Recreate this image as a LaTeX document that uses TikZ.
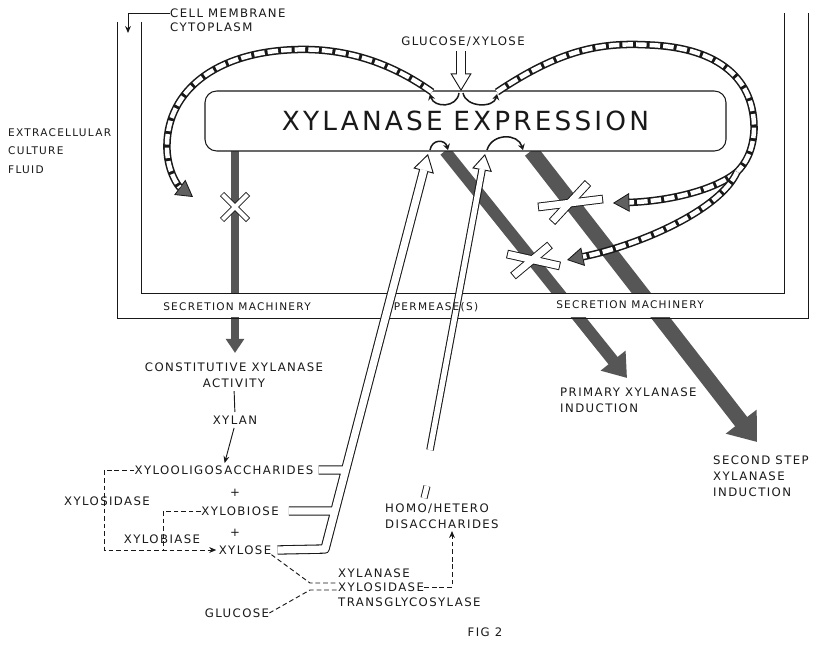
\documentclass[tikz,border=0pt]{standalone}
\usepackage{fontspec}
\setmainfont{DejaVu Sans}[LetterSpace=12]
\usepackage{tikz}
\usetikzlibrary{
  arrows.meta,
  calc
}
\definecolor{secgray}{RGB}{86,86,86}
\definecolor{tipgray}{RGB}{96,96,96}
\definecolor{inkblack}{RGB}{25,25,25}
\tikzset{
  lbl/.style={inner sep=0pt,align=center,text=inkblack,
    font=\fontsize{10}{13.6}\selectfont},
  lblw/.style={lbl,align=left,anchor=west},
  bandlbl/.style={lbl,font=\fontsize{9}{11}\selectfont},
  exprbox/.style={draw=inkblack,line width=0.9pt,fill=white,rounded corners=10pt,
    minimum width=15.63cm,minimum height=1.8cm,inner sep=0pt,text=inkblack,
    font=\fontsize{22.5}{26}\selectfont},
  membrane/.style={draw=inkblack,line width=0.8pt},
  secflow/.style={draw=secgray,fill=secgray},
  chainband/.style={draw=inkblack,line width=6.4pt,
    postaction={draw=white,line width=3.8pt,dash pattern=on 9pt off 2.6pt}},
  chain/.style={draw=inkblack,line width=6.4pt,
    -{Triangle[length=14pt,width=16pt,fill=tipgray,line width=0.7pt]},
    postaction={draw=white,line width=3.8pt,dash pattern=on 9pt off 2.6pt,
      arrows=-,shorten >=14pt}},
  pipe/.style={draw=inkblack,line width=8pt,line join=round,
    -{Triangle[length=15pt,width=18pt,fill=white,line width=0.8pt]},
    postaction={draw=white,line width=6.2pt,arrows=-,shorten >=14pt}},
  pipethin/.style={draw=inkblack,line width=6.4pt,line join=round,
    -{Triangle[length=14pt,width=17pt,fill=white,line width=0.8pt]},
    postaction={draw=white,line width=4.6pt,arrows=-,shorten >=13pt}},
  pipebreak/.style={draw=inkblack,line width=6pt,
    postaction={draw=white,line width=4.4pt}},
  barout/.style={draw=inkblack,line width=7.4pt},
  barin/.style={draw=white,line width=5.8pt,shorten <=0.8pt,shorten >=0.8pt},
  thinbarout/.style={draw=inkblack,line width=5pt},
  thinbarin/.style={draw=white,line width=3.6pt,shorten <=0.7pt,shorten >=0.7pt},
  arcflow/.style={draw=inkblack,line width=1.3pt,-{Stealth[length=5pt,width=6pt]}},
  dashline/.style={draw=inkblack,line width=0.8pt,dash pattern=on 4pt off 2.5pt},
  dashflow/.style={dashline,-{Stealth[length=6pt,width=5pt]}},
  thinflow/.style={draw=inkblack,line width=0.8pt,-{Stealth[length=6pt,width=5pt]}}
}

\begin{document}
\begin{tikzpicture}[x=0.03cm,y=-0.03cm]
  \path[use as bounding box,fill=white] (0,0) rectangle (814,647);
  % secretion arrows
  \coordinate (v0) at (235,151); \coordinate (v1) at (235,353);
  \coordinate (p0) at (445,151); \coordinate (p1) at (627,378);
  \coordinate (s0) at (531,151); \coordinate (s1) at (757,442);
  \draw[secflow,line width=6pt,-{Triangle[length=12pt,width=15pt]}] (v0) -- (v1);
  \draw[secflow,line width=10pt,-{Triangle[length=19pt,width=26pt]}] (p0) -- (p1);
  \draw[secflow,line width=13pt,-{Triangle[length=22pt,width=32pt]}] (s0) -- (s1);
  % membrane
  \fill[white] (118,294) rectangle (807,317);
  \draw[membrane] (117,22) |- (808,318) -- (808,13);
  \draw[membrane] (141,22) |- (784,293) -- (784,13);
  \node[lblw] (cell) at (170,13) {CELL MEMBRANE};
  \node[lblw] (cyto) at (170,27) {CYTOPLASM};
  \coordinate (mtip) at (128,33);
  \draw[thinflow] (cell.west) -| (mtip);
  \node[lblw,font=\fontsize{9}{16}\selectfont] (ecf) at (8,151) {EXTRACELLULAR\\CULTURE\\FLUID};
  % expression box
  \node[exprbox] (expr) at (465.5,121) {XYLANASE\hspace{0.4em}EXPRESSION};
  \node[lbl] (glu) at (463,42) {GLUCOSE/XYLOSE};
  \draw[pipe] ($(glu.south)+(-2,4)$) -- (461,91);
  % blocks
  \coordinate (xa1) at (222,194); \coordinate (xa2) at (248,220);
  \coordinate (xb1) at (248,194); \coordinate (xb2) at (222,220);
  \coordinate (ua1) at (538,207); \coordinate (ua2) at (603,199);
  \coordinate (ub1) at (552,222); \coordinate (ub2) at (588,183);
  \coordinate (la1) at (507,254); \coordinate (la2) at (560,266);
  \coordinate (lb1) at (513,276); \coordinate (lb2) at (550,245);
  \foreach \a/\b in {xa1/xa2,xb1/xb2} \draw[thinbarout] (\a) -- (\b);
  \foreach \a/\b in {xa1/xa2,xb1/xb2} \draw[thinbarin] (\a) -- (\b);
  \foreach \a/\b in {ua1/ua2,ub1/ub2,la1/la2,lb1/lb2} \draw[barout] (\a) -- (\b);
  \foreach \a/\b in {ua1/ua2,ub1/ub2,la1/la2,lb1/lb2} \draw[barin] (\a) -- (\b);
  % feedback loops
  \draw[chain] (432,92) .. controls (380,55) and (330,47) .. (287,50)
    .. controls (210,55) and (165,95) .. (167,150)
    .. controls (168,172) and (178,186) .. (193,197);
  \coordinate (split) at (737,172);
  \draw[chainband] (497,92) .. controls (560,50) and (600,42) .. (650,45)
    .. controls (720,48) and (755,80) .. (754,130)
    .. controls (753,150) and (746,163) .. (split);
  \draw[chain] (split) .. controls (715,190) and (670,201) .. (613,203);
  \draw[chain] (split) .. controls (720,210) and (640,245) .. (567,260);
  \draw[arcflow] (459,93) .. controls (457,108) and (434,108) .. (430,94);
  \draw[arcflow] (463,93) .. controls (466,108) and (494,108) .. (497,94);
  \draw[arcflow] (430,150) .. controls (432,139) and (445,139) .. (448,150);
  \draw[arcflow] (487,150) .. controls (492,133) and (518,133) .. (523,150);
  % sugars
  \node[lbl] (const) at (234,375) {CONSTITUTIVE XYLANASE\\ACTIVITY};
  \node[lbl] (xylan) at (235,420) {XYLAN};
  \node[lbl] (oligo) at (224,470) {XYLOOLIGOSACCHARIDES};
  \node[lbl] (plus1) at (235,493) {+};
  \node[lbl] (biose) at (240,511) {XYLOBIOSE};
  \node[lbl] (plus2) at (235,533) {+};
  \node[lbl] (xylose) at (245,550) {XYLOSE};
  \node[lbl] (xsdase) at (107,501) {XYLOSIDASE};
  \node[lbl] (xbiase) at (162,539) {XYLOBIASE};
  \node[lbl] (glucose) at (237,613) {GLUCOSE};
  \node[lblw] (xln) at (338,573) {XYLANASE};
  \node[lblw] (xsd) at (338,587) {XYLOSIDASE};
  \node[lblw] (tgl) at (338,602) {TRANSGLYCOSYLASE};
  \node[lblw] (homo) at (385,516) {HOMO/HETERO\\DISACCHARIDES};
  \node[lblw] (prim) at (560,400) {PRIMARY XYLANASE\\INDUCTION};
  \node[lblw] (second) at (713,476) {SECOND STEP\\XYLANASE\\INDUCTION};
  \node[lbl] (fig) at (485,632) {FIG 2};
  \draw[inkblack,line width=0.8pt,shorten <=3pt,shorten >=3pt] (const.south) -- (xylan.north);
  \draw[thinflow,shorten <=3pt,shorten >=2pt] (xylan.south) -- (oligo.north);
  \draw[dashflow,shorten >=2pt] (oligo.west) -- ++(-30,0) |- (xylose.west);
  \coordinate (bj) at (163,550);
  \draw[dashline] (biose.west) -| (bj);
  \coordinate (ej1) at (310,583); \coordinate (ej2) at (310,590);
  \draw[dashline] (xylose.south east) -- (ej1) -- (ej1 -| xsd.west);
  \draw[dashline] (glucose.east) -- (ej2) -- (ej2 -| xsd.west);
  \coordinate (dtip) at (452,531);
  \draw[dashflow] (xsd.east) -| (dtip);
  % permeases
  \coordinate (pa0) at (325,549); \coordinate (pa1) at (428,154);
  \draw[pipe] ($(oligo.east)+(5,0)$) -- (347,470)
    ($(biose.east)+(10,0)$) -- (336,511)
    ($(xylose.east)+(6,0)$) -- (pa0) -- (pa1);
  \coordinate (pb0) at (430,450); \coordinate (pb1) at (485,154);
  \draw[pipethin] (pb0) -- (pb1);
  \coordinate (br0) at (424,498); \coordinate (br1) at (427,486);
  \draw[pipebreak] (br0) -- (br1);
  % band labels
  \node[bandlbl] (secl) at (237,307) {SECRETION MACHINERY};
  \node[bandlbl] (perm) at (436,307) {PERMEASE(S)};
  \node[bandlbl] (secr) at (630,305) {SECRETION MACHINERY};
\end{tikzpicture}
\end{document}
